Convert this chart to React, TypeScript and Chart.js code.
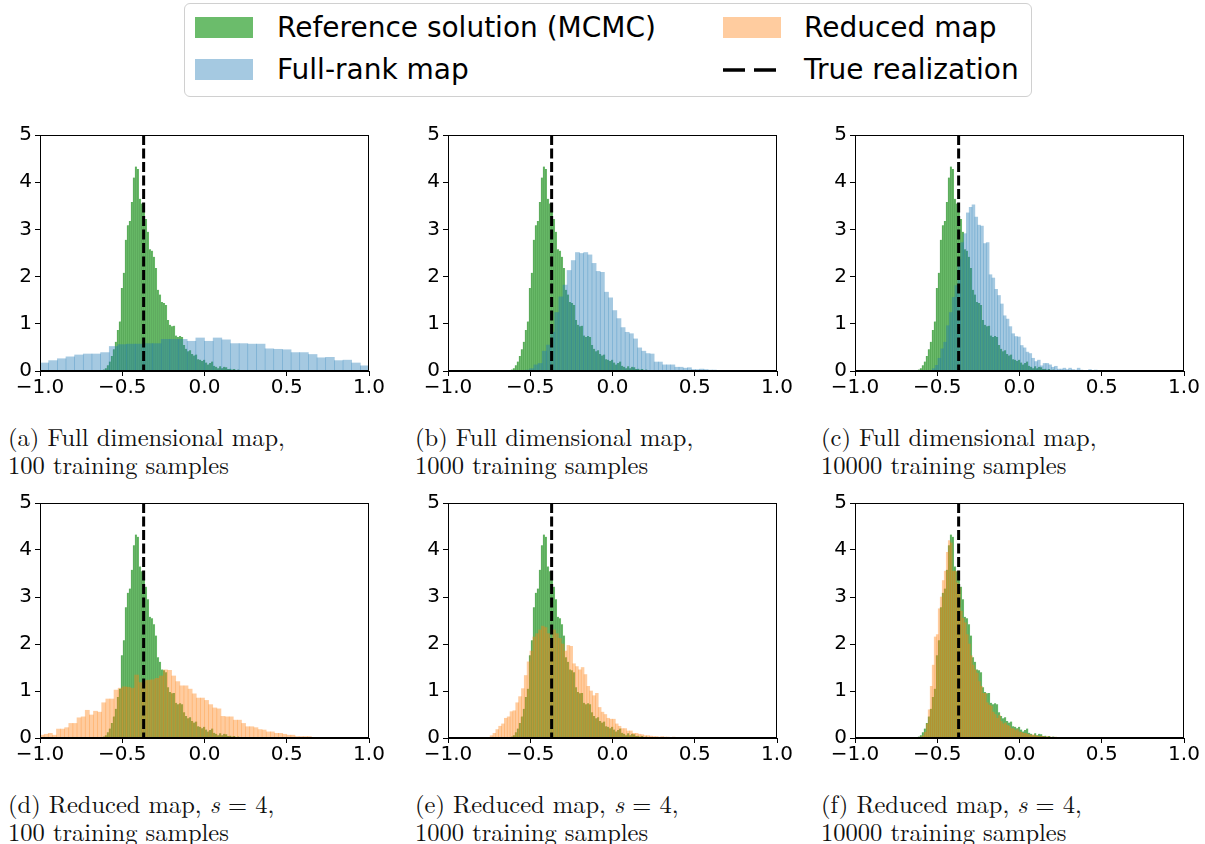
import React, { useEffect, useRef } from "react";
import { Chart, registerables } from "chart.js";

Chart.register(...registerables);

// ---------------- data ----------------
const X_TICKS = [-1, -0.5, 0, 0.5, 1];
const Y_TICKS = [0, 1, 2, 3, 4, 5];
const TRUE_REALIZATION = -0.37;

const LEGEND_LABELS = ["Reference solution (MCMC)", "Full-rank map", "Reduced map", "True realization"];

// Reference solution (MCMC) histogram — same in every panel
const mcmcStart = -0.642;
const mcmcWidth = 0.0122;
const mcmcHeights = [
  0.01, 0.02, 0.03, 0.06, 0.12, 0.2, 0.32, 0.46, 0.62, 0.87, 1.05, 1.76, 2.08, 2.78, 3.09, 3.18, 3.58, 4.1, 4.33,
  4.28, 3.65, 3.55, 3.4, 3.22, 2.95, 2.58, 2.55, 2.42, 2.18, 1.72, 1.62, 1.46, 1.44, 1.4, 1.08, 0.98, 0.95, 0.96,
  0.75, 0.72, 0.74, 0.72, 0.55, 0.47, 0.42, 0.44, 0.36, 0.33, 0.35, 0.25, 0.24, 0.21, 0.24, 0.18, 0.14, 0.17, 0.2,
  0.11, 0.09, 0.06, 0.1, 0.06, 0.09, 0.08, 0.04, 0.05, 0.03, 0.04, 0.02, 0.03, 0.02, 0.02, 0.01, 0.02, 0.01, 0.01,
  0.01, 0.01,
];

// Full-rank map, 100 / 1000 / 10000 training samples
const fullRank100Start = -1.0;
const fullRank100Width = 0.05263;
const fullRank100Heights = [
  0.17, 0.22, 0.26, 0.3, 0.34, 0.36, 0.36, 0.39, 0.52, 0.56, 0.57, 0.57, 0.58, 0.58, 0.67, 0.67, 0.67, 0.63, 0.7,
  0.63, 0.7, 0.66, 0.58, 0.58, 0.57, 0.57, 0.47, 0.46, 0.45, 0.39, 0.39, 0.35, 0.28, 0.29, 0.22, 0.23, 0.17, 0.11,
];

const fullRank1000Start = -0.528;
const fullRank1000Width = 0.0252;
const fullRank1000Heights = [
  0.02, 0.05, 0.13, 0.16, 0.42, 0.55, 0.82, 1.24, 1.57, 1.82, 2.13, 2.34, 2.51, 2.49, 2.51, 2.46, 2.28, 2.11, 2.09,
  1.67, 1.55, 1.28, 1.11, 0.92, 0.82, 0.79, 0.68, 0.49, 0.42, 0.37, 0.36, 0.19, 0.19, 0.13, 0.13, 0.13, 0.08, 0.08,
  0.06, 0.07, 0.03, 0.03, 0.04, 0.03, 0.02, 0.02, 0.01,
];

const fullRank10000Start = -0.5305;
const fullRank10000Width = 0.01728;
const fullRank10000Heights = [
  0.05, 0.12, 0.27, 0.47, 0.61, 0.96, 1.24, 1.56, 1.81, 2.36, 2.72, 2.91, 3.35, 3.47, 3.52, 3.26, 3.09, 3.07, 2.7,
  2.72, 2.04, 1.97, 1.73, 1.6, 1.42, 1.17, 1.1, 0.94, 0.79, 0.73, 0.72, 0.54, 0.49, 0.4, 0.37, 0.27, 0.2, 0.23, 0.11,
  0.16, 0.16, 0.13, 0.08, 0.1, 0.04, 0.04, 0.06, 0.03, 0.06, 0.03, 0.02, 0.06, 0.02, 0.01, 0.01, 0.03, 0.01, 0.02,
  0.01, 0.01,
];

// Reduced map (s = 4), 100 / 1000 / 10000 training samples
const reduced100Start = -1.0;
const reduced100Width = 0.025;
const reduced100Heights = [
  0.06, 0.08, 0.1, 0.06, 0.19, 0.19, 0.22, 0.31, 0.31, 0.43, 0.45, 0.59, 0.49, 0.57, 0.55, 0.75, 0.83, 0.83, 1.02,
  1.06, 1.09, 1.08, 1.06, 1.34, 1.18, 1.22, 1.23, 1.24, 1.27, 1.32, 1.45, 1.44, 1.32, 1.2, 1.11, 1.11, 1.04, 0.94,
  0.85, 0.85, 0.8, 0.71, 0.64, 0.62, 0.46, 0.45, 0.45, 0.38, 0.38, 0.31, 0.24, 0.24, 0.22, 0.18, 0.17, 0.13, 0.13,
  0.1, 0.1, 0.08, 0.06, 0.06, 0.03, 0.03, 0.03, 0.03, 0.01,
];

const reduced1000Start = -0.744;
const reduced1000Width = 0.0173;
const reduced1000Heights = [
  0.05, 0.1, 0.18, 0.25, 0.3, 0.42, 0.45, 0.56, 0.58, 0.75, 0.88, 1.05, 1.33, 1.62, 1.85, 2.15, 2.22, 2.3, 2.38,
  2.35, 2.22, 2.12, 2.3, 2.22, 2.12, 2.0, 1.85, 1.97, 1.95, 1.58, 1.52, 1.45, 1.5, 1.35, 1.1, 1.0, 0.9, 0.95, 0.65,
  0.55, 0.5, 0.42, 0.4, 0.4, 0.3, 0.25, 0.2, 0.2, 0.15, 0.15, 0.1, 0.1, 0.08, 0.07, 0.05, 0.05, 0.04, 0.03, 0.03,
  0.02, 0.03, 0.02, 0.02, 0.01, 0.02, 0.01, 0.01, 0.01, 0.01, 0.01, 0.01, 0, 0, 0, 0, 0, 0.01,
];

const reduced10000Start = -0.616;
const reduced10000Width = 0.0122;
const reduced10000Heights = [
  0.01, 0.02, 0.05, 0.12, 0.3, 0.6, 1.1, 1.55, 2.15, 2.2, 2.75, 3.0, 3.35, 3.55, 3.95, 4.2, 4.15, 3.55, 3.55, 3.3,
  3.2, 2.7, 2.55, 2.45, 2.2, 2.0, 1.75, 1.55, 1.45, 1.38, 1.2, 1.1, 0.95, 0.95, 0.75, 0.7, 0.68, 0.55, 0.5, 0.42,
  0.48, 0.35, 0.3, 0.32, 0.27, 0.25, 0.2, 0.2, 0.16, 0.18, 0.13, 0.12, 0.1, 0.1, 0.08, 0.07, 0.06, 0.07, 0.05, 0.04,
  0.03, 0.04, 0.03, 0.02, 0.03, 0.02, 0.02, 0.01, 0.02, 0.01, 0.01, 0.01, 0.01, 0.005, 0.01, 0.005, 0.005, 0.005,
  0.005, 0.005, 0.005, 0.005, 0.005, 0.005, 0.005, 0.005, 0.005,
];

// ---------------- styles ----------------
const GREEN = "rgba(44,160,44,0.7)";
const GREEN_EDGE = "rgba(30,120,30,0.55)";
const BLUE = "rgba(31,119,180,0.4)";
const ORANGE = "rgba(255,127,14,0.4)";
const GREEN_SOLID = "rgb(107,188,107)";
const BLUE_SOLID = "rgb(165,201,225)";
const ORANGE_SOLID = "rgb(255,204,159)";

const TICK_FONT = { family: "'DejaVu Sans', sans-serif", size: 20 };
const SERIF = "'Latin Modern Roman', 'CMU Serif', 'Liberation Serif', serif";

const PLOT_W = 329;
const PAD_L = 40;
const PAD_T = 12;
const PAD_R = 22;
const PAD_B = 32;

function binPoints(start: number, width: number, heights: number[]) {
  return heights.map((h, i) => ({ x: start + (i + 0.5) * width, y: h }));
}

function fmtTick(v: number) {
  const s = Math.abs(v).toFixed(1);
  return v < 0 ? "\u2212" + s : s;
}

const framePlugin = {
  id: "frame",
  afterDatasetsDraw(chart: any) {
    const { ctx, chartArea } = chart;
    const l = Math.round(chartArea.left) + 0.5;
    const t = Math.round(chartArea.top) + 0.5;
    const r = Math.round(chartArea.right) - 0.5;
    const b = Math.round(chartArea.bottom) - 0.5;
    ctx.save();
    ctx.strokeStyle = "#000";
    ctx.lineWidth = 1;
    ctx.strokeRect(l, t, r - l, b - t);
    ctx.restore();
  },
};

type PanelProps = {
  left: number;
  top: number;
  height: number;
  other: { x: number; y: number }[];
  otherColor: string;
};

function HistPanel({ left, top, height, other, otherColor }: PanelProps) {
  const ref = useRef<HTMLCanvasElement>(null);
  const cw = PLOT_W + PAD_L + PAD_R;
  const ch = height + PAD_T + PAD_B;

  useEffect(() => {
    const canvas = ref.current!;
    const mcmc = binPoints(mcmcStart, mcmcWidth, mcmcHeights);
    const chart = new Chart(canvas, {
      type: "bar",
      data: {
        datasets: [
          {
            type: "line",
            data: [
              { x: TRUE_REALIZATION, y: Y_TICKS[Y_TICKS.length - 1] },
              { x: TRUE_REALIZATION, y: Y_TICKS[0] },
            ],
            borderColor: "#000",
            borderWidth: 3,
            borderDash: [10, 3.5],
            pointRadius: 0,
            xAxisID: "x",
            yAxisID: "y",
            order: 0,
          } as any,
          {
            type: "bar",
            data: other,
            backgroundColor: otherColor,
            borderWidth: 0,
            xAxisID: "x2",
            yAxisID: "y",
            barPercentage: 1,
            categoryPercentage: 1,
            grouped: false,
            order: 1,
          } as any,
          {
            type: "bar",
            data: mcmc,
            backgroundColor: GREEN,
            borderColor: GREEN_EDGE,
            borderWidth: { left: 0.7, right: 0, top: 0, bottom: 0 },
            borderSkipped: false,
            xAxisID: "x3",
            yAxisID: "y",
            barPercentage: 1,
            categoryPercentage: 1,
            grouped: false,
            order: 2,
          } as any,
        ],
      },
      options: {
        animation: false,
        responsive: false,
        devicePixelRatio: 1,
        events: [],
        layout: { padding: { top: PAD_T, right: PAD_R, left: 0, bottom: 0 } },
        plugins: { legend: { display: false }, tooltip: { enabled: false } },
        scales: {
          x: {
            type: "linear",
            min: X_TICKS[0],
            max: X_TICKS[X_TICKS.length - 1],
            offset: false,
            position: "bottom",
            afterBuildTicks: (s: any) => {
              s.ticks = X_TICKS.map((v) => ({ value: v }));
            },
            afterFit: (s: any) => {
              s.height = PAD_B;
            },
            ticks: {
              font: TICK_FONT,
              color: "#000",
              padding: 0,
              maxRotation: 0,
              autoSkip: false,
              callback: (v: any) => fmtTick(Number(v)),
            },
            grid: { display: true, drawOnChartArea: false, drawTicks: true, tickLength: 5, color: "#000", offset: false },
            border: { display: true, color: "#000", width: 1 },
          },
          x2: { type: "linear", min: -1, max: 1, offset: false, display: false, grid: { offset: false } },
          x3: { type: "linear", min: -1, max: 1, offset: false, display: false, grid: { offset: false } },
          y: {
            type: "linear",
            min: Y_TICKS[0],
            max: Y_TICKS[Y_TICKS.length - 1],
            afterBuildTicks: (s: any) => {
              s.ticks = Y_TICKS.map((v) => ({ value: v }));
            },
            afterFit: (s: any) => {
              s.width = PAD_L;
            },
            ticks: { font: TICK_FONT, color: "#000", padding: 3, callback: (v: any) => String(v) },
            grid: { display: true, drawOnChartArea: false, drawTicks: true, tickLength: 5, color: "#000" },
            border: { display: true, color: "#000", width: 1 },
          },
        },
      } as any,
      plugins: [framePlugin],
    });
    return () => chart.destroy();
  }, []);

  return (
    <canvas
      ref={ref}
      width={cw}
      height={ch}
      style={{ position: "absolute", left: left - PAD_L, top: top - PAD_T, width: cw, height: ch }}
    />
  );
}

function Caption({ left, top, line1, line2 }: { left: number; top: number; line1: React.ReactNode; line2: string }) {
  return (
    <div
      style={{
        position: "absolute",
        left,
        top,
        fontFamily: SERIF,
        fontSize: 24.5,
        lineHeight: "28px",
        color: "#111",
        whiteSpace: "nowrap",
      }}
    >
      <div>{line1}</div>
      <div>{line2}</div>
    </div>
  );
}

function Legend() {
  const patch = (left: number, top: number, color: string) => (
    <div style={{ position: "absolute", left, top, width: 58, height: 21, background: color }} />
  );
  const label = (left: number, centerY: number, text: string) => (
    <div
      style={{
        position: "absolute",
        left,
        top: centerY - 17,
        height: 34,
        lineHeight: "34px",
        fontFamily: "'DejaVu Sans', sans-serif",
        fontSize: 28,
        color: "#000",
        whiteSpace: "nowrap",
      }}
    >
      {text}
    </div>
  );
  return (
    <>
      <div
        style={{
          position: "absolute",
          left: 184,
          top: 3,
          width: 848,
          height: 94,
          boxSizing: "border-box",
          border: "1.5px solid #d0d0d0",
          borderRadius: 6,
          background: "#fff",
        }}
      />
      {patch(195, 17, GREEN_SOLID)}
      {label(277, 28, LEGEND_LABELS[0])}
      {patch(195, 59, BLUE_SOLID)}
      {label(277, 70, LEGEND_LABELS[1])}
      {patch(723, 17, ORANGE_SOLID)}
      {label(804, 28, LEGEND_LABELS[2])}
      <svg style={{ position: "absolute", left: 723, top: 60 }} width={60} height={20}>
        <line x1={0} y1={10} x2={58} y2={10} stroke="#000" strokeWidth={3.5} strokeDasharray="22 9" />
      </svg>
      {label(804, 70, LEGEND_LABELS[3])}
    </>
  );
}

const TOP_ROW = 132;
const BOTTOM_ROW = 500;
const COL_LEFT = [40, 448, 855];

export default function App() {
  const fr100 = binPoints(fullRank100Start, fullRank100Width, fullRank100Heights);
  const fr1000 = binPoints(fullRank1000Start, fullRank1000Width, fullRank1000Heights);
  const fr10000 = binPoints(fullRank10000Start, fullRank10000Width, fullRank10000Heights);
  const rd100 = binPoints(reduced100Start, reduced100Width, reduced100Heights);
  const rd1000 = binPoints(reduced1000Start, reduced1000Width, reduced1000Heights);
  const rd10000 = binPoints(reduced10000Start, reduced10000Width, reduced10000Heights);

  const reducedLine = (tag: string) => (
    <>
      ({tag}) Reduced map, <i>s</i> = 4,
    </>
  );

  return (
    <div style={{ position: "absolute", left: 0, top: 0, width: 1205, height: 844, background: "#fff", overflow: "hidden" }}>
      <Legend />
      <HistPanel left={COL_LEFT[0]} top={TOP_ROW} height={239} other={fr100} otherColor={BLUE} />
      <HistPanel left={COL_LEFT[1]} top={TOP_ROW} height={239} other={fr1000} otherColor={BLUE} />
      <HistPanel left={COL_LEFT[2]} top={TOP_ROW} height={239} other={fr10000} otherColor={BLUE} />
      <HistPanel left={COL_LEFT[0]} top={BOTTOM_ROW} height={238} other={rd100} otherColor={ORANGE} />
      <HistPanel left={COL_LEFT[1]} top={BOTTOM_ROW} height={238} other={rd1000} otherColor={ORANGE} />
      <HistPanel left={COL_LEFT[2]} top={BOTTOM_ROW} height={238} other={rd10000} otherColor={ORANGE} />

      <Caption left={8} top={422} line1="(a) Full dimensional map," line2="100 training samples" />
      <Caption left={415} top={422} line1="(b) Full dimensional map," line2="1000 training samples" />
      <Caption left={821} top={422} line1="(c) Full dimensional map," line2="10000 training samples" />
      <Caption left={8} top={789} line1={reducedLine("d")} line2="100 training samples" />
      <Caption left={415} top={789} line1={reducedLine("e")} line2="1000 training samples" />
      <Caption left={821} top={789} line1={reducedLine("f")} line2="10000 training samples" />
    </div>
  );
}
